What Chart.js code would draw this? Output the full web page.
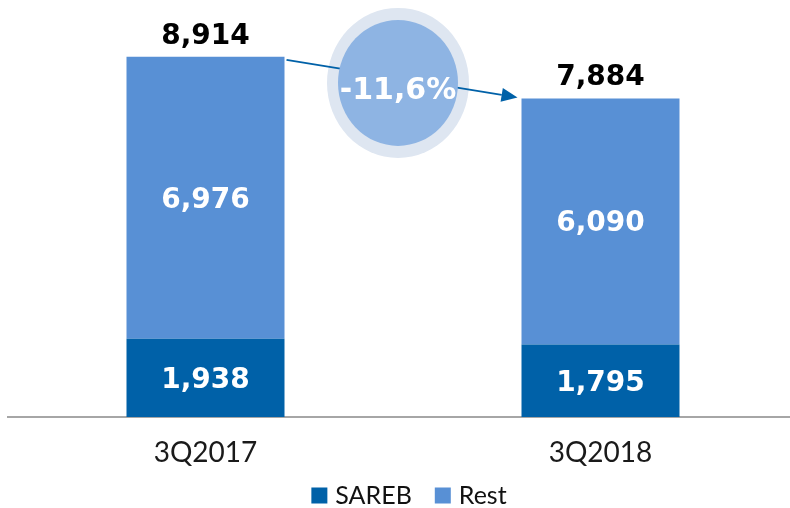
<!DOCTYPE html>
<html>
<head>
<meta charset="utf-8">
<script src="https://cdn.jsdelivr.net/npm/chart.js@4.4.0/dist/chart.umd.min.js"></script>
<style>
  html, body { margin: 0; padding: 0; background: #ffffff; overflow: hidden; }
  #wrap { width: 790px; height: 508px; position: relative; overflow: hidden; }
  canvas { display: block; }
</style>
</head>
<body>
<div id="wrap"><canvas id="c" width="798" height="508"></canvas></div>
<script>
const categories = ["3Q2017", "3Q2018"];
const seriesNames = ["SAREB", "Rest"];
const sarebValues = [1938, 1795];
const restValues = [6976, 6090];
const totalValues = [8914, 7884];
const changeLabel = "-11,6%";

const COL_SAREB = "#0061A8";
const COL_REST = "#5890D5";
const NUMFONT = "'DejaVu Sans', sans-serif";
const TXTFONT = "Lato, 'DejaVu Sans', sans-serif";

function fmt(v) { return v.toLocaleString("en-US"); }

const labelPlugin = {
  id: "labels",
  afterDatasetsDraw(chart) {
    const ctx = chart.ctx;
    ctx.save();
    ctx.textAlign = "center";
    ctx.textBaseline = "alphabetic";
    chart.data.datasets.forEach((ds, di) => {
      const meta = chart.getDatasetMeta(di);
      meta.data.forEach((bar, i) => {
        const mid = (bar.y + bar.base) / 2;
        ctx.fillStyle = "#ffffff";
        ctx.font = "bold 28px " + NUMFONT;
        ctx.fillText(fmt(ds.data[i]), bar.x, mid + 10);
      });
    });
    const top = chart.getDatasetMeta(1);
    top.data.forEach((bar, i) => {
      ctx.fillStyle = "#000000";
      ctx.font = "bold 28px " + NUMFONT;
      ctx.fillText(fmt(totalValues[i]), bar.x, bar.y - 13);
    });
    ctx.restore();
  }
};

const changePlugin = {
  id: "change",
  afterDraw(chart) {
    const ctx = chart.ctx;
    const meta = chart.getDatasetMeta(1);
    const b1 = meta.data[0], b2 = meta.data[1];
    const x1 = b1.x + b1.width / 2 + 2, y1 = b1.y + 3;
    const x2 = b2.x - b2.width / 2 - 4, y2 = b2.y - 1;
    const cx = (b1.x + b2.x) / 2 - 5, cy = chart.scales.y.getPixelForValue(8270);
    ctx.save();
    ctx.fillStyle = "#DEE6F1";
    ctx.beginPath();
    ctx.ellipse(cx, cy, 71, 75, 0, 0, Math.PI * 2);
    ctx.fill();
    ctx.strokeStyle = COL_SAREB;
    ctx.fillStyle = COL_SAREB;
    ctx.lineWidth = 2;
    const ang = Math.atan2(y2 - y1, x2 - x1);
    const hl = 16, hw = 7;
    const bx = x2 - hl * Math.cos(ang), by = y2 - hl * Math.sin(ang);
    ctx.beginPath();
    ctx.moveTo(x1, y1);
    ctx.lineTo(bx, by);
    ctx.stroke();
    ctx.beginPath();
    ctx.moveTo(x2, y2);
    ctx.lineTo(bx + hw * Math.sin(ang), by - hw * Math.cos(ang));
    ctx.lineTo(bx - hw * Math.sin(ang), by + hw * Math.cos(ang));
    ctx.closePath();
    ctx.fill();
    ctx.fillStyle = "#8EB4E3";
    ctx.beginPath();
    ctx.ellipse(cx, cy, 60, 63, 0, 0, Math.PI * 2);
    ctx.fill();
    ctx.fillStyle = "#ffffff";
    ctx.font = "bold 30px " + NUMFONT;
    ctx.textAlign = "center";
    ctx.textBaseline = "alphabetic";
    ctx.fillText(changeLabel, cx, cy + 16);
    ctx.restore();
  }
};

const legendPlugin = {
  id: "customLegend",
  afterDraw(chart) {
    const ctx = chart.ctx;
    ctx.save();
    ctx.font = "25px " + TXTFONT;
    ctx.textBaseline = "middle";
    ctx.textAlign = "left";
    const box = 16, gapText = 8, gapItem = 23;
    const items = chart.data.datasets.map(ds => ({ text: ds.label, color: ds.backgroundColor, w: ctx.measureText(ds.label).width }));
    let total = 0;
    items.forEach((it, i) => { total += box + gapText + it.w + (i < items.length - 1 ? gapItem : 0); });
    const ca = chart.chartArea;
    let x = (ca.left + ca.right) / 2 + 6 - total / 2;
    const cy = 495.5;
    items.forEach(it => {
      ctx.fillStyle = it.color;
      ctx.fillRect(x, cy - box / 2, box, box);
      x += box + gapText;
      ctx.fillStyle = "#111111";
      ctx.fillText(it.text, x, cy);
      x += it.w + gapItem;
    });
    ctx.restore();
  }
};

new Chart(document.getElementById("c"), {
  type: "bar",
  data: {
    labels: categories,
    datasets: [
      { label: seriesNames[0], data: sarebValues, backgroundColor: COL_SAREB, borderWidth: 0 },
      { label: seriesNames[1], data: restValues, backgroundColor: COL_REST, borderWidth: 0 }
    ]
  },
  options: {
    responsive: false,
    animation: false,
    devicePixelRatio: 1,
    layout: { padding: { left: 8, right: 0, top: 13, bottom: 37 } },
    barPercentage: 0.8,
    categoryPercentage: 0.5,
    scales: {
      x: {
        stacked: true,
        grid: { display: false },
        border: { display: true, color: "#A6A6A6", width: 2 },
        ticks: { color: "#1a1a1a", font: { family: TXTFONT, size: 28 }, padding: 11 },
        afterFit(scale) { scale.height = 54; }
      },
      y: {
        stacked: true,
        display: false,
        min: 0,
        max: 10000
      }
    },
    plugins: {
      legend: { display: false },
      tooltip: { enabled: false }
    }
  },
  plugins: [labelPlugin, changePlugin, legendPlugin]
});
</script>
</body>
</html>
